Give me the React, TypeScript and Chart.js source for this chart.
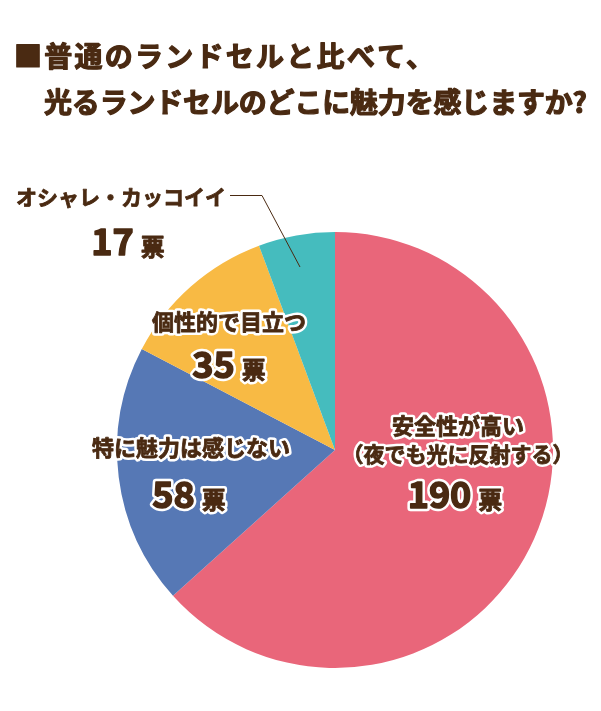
import React, { useEffect, useRef } from "react";
import { Chart, registerables } from "chart.js";

Chart.register(...registerables);

// ---- data ----
const categories = [
  "安全性が高い（夜でも光に反射する）",
  "特に魅力は感じない",
  "個性的で目立つ",
  "オシャレ・カッコイイ",
];
const labelLines = [
  ["安全性が高い", "（夜でも光に反射する）"],
  ["特に魅力は感じない"],
  ["個性的で目立つ"],
  ["オシャレ・カッコイイ"],
];
const votes = [190, 58, 35, 17];
const unit = "票";
const titleLines = ["■普通のランドセルと比べて、", "光るランドセルのどこに魅力を感じますか?"];
const sliceColors = ["#E9667A", "#5678B5", "#F8BA44", "#45BCBE"];

const TEXT = "#4A2A12";
const JP = "'Noto Sans CJK JP', 'Noto Sans', sans-serif";

// label placement (layout only)
const labelPlaces = [
  { x: 458, lineY: [426, 454], lineSize: [22, 21], numX: 455, base: 508 },
  { x: 191, lineY: [448], lineSize: [22], numX: 189, base: 508 },
  { x: 229, lineY: [322], lineSize: [22], numX: 229, base: 378 },
  { x: 121, lineY: [197], lineSize: [21], numX: 128, base: 255 },
];
const titlePlaces = [
  { x: 14, y: 56, width: 420 },
  { x: 44, y: 102, width: 543 },
];

const overlayPlugin = {
  id: "overlay",
  afterDraw(chart: any) {
    const ctx: CanvasRenderingContext2D = chart.ctx;
    ctx.save();
    // title
    ctx.fillStyle = TEXT;
    ctx.strokeStyle = TEXT;
    ctx.lineJoin = "round";
    ctx.lineWidth = 1.2;
    ctx.textBaseline = "middle";
    ctx.textAlign = "left";
    ctx.font = `bold 28px ${JP}`;
    titleLines.forEach((t, i) => {
      const tp = titlePlaces[i];
      (ctx as any).letterSpacing = "0px";
      const w = ctx.measureText(t).width;
      const n = Array.from(t).length;
      const ls = (tp.width - w) / (n - 1);
      (ctx as any).letterSpacing = `${ls}px`;
      ctx.fillText(t, tp.x, tp.y);
      ctx.strokeText(t, tp.x, tp.y);
    });
    (ctx as any).letterSpacing = "0px";

    // leader line for smallest slice
    ctx.strokeStyle = TEXT;
    ctx.lineWidth = 1;
    ctx.beginPath();
    ctx.moveTo(230, 195.5);
    ctx.lineTo(262, 195.5);
    ctx.lineTo(300, 267);
    ctx.stroke();

    const outlined = (text: string, x: number, y: number, font: string, align: CanvasTextAlign, base: CanvasTextBaseline, outline: boolean, heavy: number) => {
      ctx.font = font;
      ctx.textAlign = align;
      ctx.textBaseline = base;
      ctx.lineJoin = "round";
      if (outline) {
        ctx.lineWidth = 5 + heavy;
        ctx.strokeStyle = "#FFFFFF";
        ctx.strokeText(text, x, y);
      }
      ctx.fillStyle = TEXT;
      ctx.fillText(text, x, y);
      ctx.lineWidth = heavy;
      ctx.strokeStyle = TEXT;
      ctx.strokeText(text, x, y);
    };

    votes.forEach((v, i) => {
      const p = labelPlaces[i];
      const outline = i !== 3;
      labelLines[i].forEach((line, j) => {
        outlined(line, p.x, p.lineY[j], `bold ${p.lineSize[j]}px ${JP}`, "center", "middle", outline, 0.8);
      });
      const numFont = `bold 36px ${JP}`;
      const unitFont = `bold 24px ${JP}`;
      ctx.font = numFont;
      const nw = ctx.measureText(String(v)).width;
      ctx.font = unitFont;
      const uw = ctx.measureText(unit).width;
      const gap = 7;
      const start = p.numX - (nw + gap + uw) / 2;
      outlined(String(v), start, p.base, numFont, "left", "alphabetic", outline, 1.5);
      outlined(unit, start + nw + gap, p.base + 1, unitFont, "left", "alphabetic", outline, 0.8);
    });
    ctx.restore();
  },
};

export default function App() {
  const ref = useRef<HTMLCanvasElement>(null);
  useEffect(() => {
    if (!ref.current) return;
    const chart = new Chart(ref.current, {
      type: "pie",
      data: {
        labels: categories,
        datasets: [
          {
            data: votes,
            backgroundColor: sliceColors,
            borderWidth: 0,
          },
        ],
      },
      options: {
        responsive: false,
        animation: false,
        layout: { padding: { left: 117, right: 48, top: 232, bottom: 43 } },
        plugins: {
          legend: { display: false },
          tooltip: { enabled: false },
        },
      },
      plugins: [overlayPlugin],
    });
    return () => chart.destroy();
  }, []);
  return (
    <div style={{ position: "fixed", left: 0, top: 0, width: 601, height: 711, background: "#fff" }}>
      <canvas ref={ref} width={601} height={711} />
    </div>
  );
}
